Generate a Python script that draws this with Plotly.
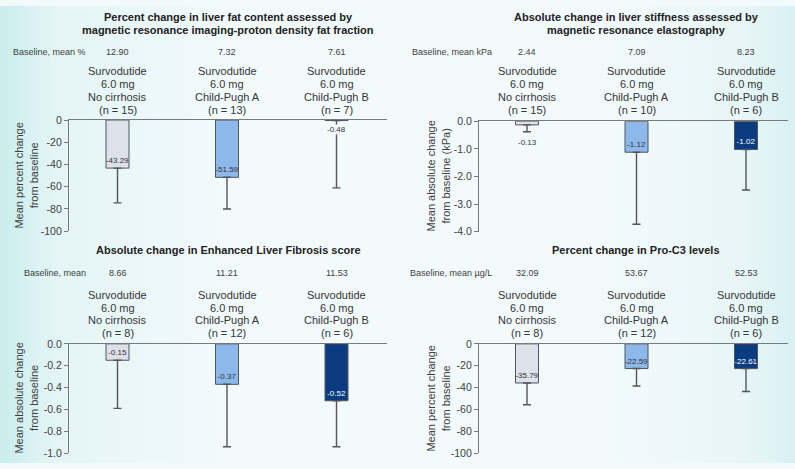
import base64
import plotly.graph_objects as go

# ---------------- data ----------------
groups = ["No cirrhosis", "Child-Pugh A", "Child-Pugh B"]
drug_line1 = "Survodutide"
drug_line2 = "6.0 mg"

p1_title = ["Percent change in liver fat content assessed by",
            "magnetic resonance imaging-proton density fat fraction"]
p1_baseline_label = "Baseline, mean %"
p1_baseline = ["12.90", "7.32", "7.61"]
p1_n = ["(n = 15)", "(n = 13)", "(n = 7)"]
p1_values = [-43.29, -51.59, -0.48]
p1_err = [31.3, 28.5, 60.6]
p1_ytitle = "Mean percent change<br>from baseline"
p1_ticks = [0, -20, -40, -60, -80, -100]
p1_ticktext = ["0", "-20", "-40", "-60", "-80", "-100"]

p2_title = ["Absolute change in liver stiffness assessed by",
            "magnetic resonance elastography"]
p2_baseline_label = "Baseline, mean kPa"
p2_baseline = ["2.44", "7.09", "8.23"]
p2_n = ["(n = 15)", "(n = 10)", "(n = 6)"]
p2_values = [-0.13, -1.12, -1.02]
p2_err = [0.25, 2.61, 1.47]
p2_ytitle = "Mean absolute change<br>from baseline (kPa)"
p2_ticks = [0, -1, -2, -3, -4]
p2_ticktext = ["0.0", "-1.0", "-2.0", "-3.0", "-4.0"]

p3_title = ["Absolute change in Enhanced Liver Fibrosis score"]
p3_baseline_label = "Baseline, mean"
p3_baseline = ["8.66", "11.21", "11.53"]
p3_n = ["(n = 8)", "(n = 12)", "(n = 6)"]
p3_values = [-0.15, -0.37, -0.52]
p3_err = [0.44, 0.57, 0.42]
p3_ytitle = "Mean absolute change<br>from baseline"
p3_ticks = [0, -0.2, -0.4, -0.6, -0.8, -1.0]
p3_ticktext = ["0.0", "-0.2", "-0.4", "-0.6", "-0.8", "-1.0"]

p4_title = ["Percent change in Pro-C3 levels"]
p4_baseline_label = "Baseline, mean µg/L"
p4_baseline = ["32.09", "53.67", "52.53"]
p4_n = ["(n = 8)", "(n = 12)", "(n = 6)"]
p4_values = [-35.79, -22.59, -22.61]
p4_err = [19.9, 15.9, 20.9]
p4_ytitle = "Mean percent change<br>from baseline"
p4_ticks = [0, -20, -40, -60, -80, -100]
p4_ticktext = ["0", "-20", "-40", "-60", "-80", "-100"]

# ---------------- styles / layout ----------------
W, H = 795, 469
FONT = "Liberation Sans, Arial, sans-serif"
bar_colors = ["#dde1e9", "#8cb8ea", "#0c3c80"]
label_colors = ["#333333", "#333333", "#ffffff"]
BG_MID = "#f3fafc"

panels = [
    dict(title=p1_title, bl=p1_baseline_label, base=p1_baseline, n=p1_n, v=p1_values, e=p1_err,
         yt=p1_ytitle, tv=p1_ticks, tt=p1_ticktext, yr=[-100, 0],
         xpx=[69, 387], ypx=[117, 231], c0=117.5, title_y=[11.7, 25.0], title_x=228,
         base_y=47.7, base_right=88, grp_y=66.7, grp_dy=13.4, ytx=26,
         lab=["inside", "inside", "belowbar"]),
    dict(title=p2_title, bl=p2_baseline_label, base=p2_baseline, n=p2_n, v=p2_values, e=p2_err,
         yt=p2_ytitle, tv=p2_ticks, tt=p2_ticktext, yr=[-4, 0],
         xpx=[479, 788], ypx=[118.3, 231.7], c0=527, title_y=[11.7, 25.0], title_x=636,
         base_y=47.7, base_right=494, grp_y=66.7, grp_dy=13.4, ytx=438,
         lab=["belowerr", "inside", "inside"]),
    dict(title=p3_title, bl=p3_baseline_label, base=p3_baseline, n=p3_n, v=p3_values, e=p3_err,
         yt=p3_ytitle, tv=p3_ticks, tt=p3_ticktext, yr=[-1, 0],
         xpx=[69, 387], ypx=[346.7, 459], c0=117.5, title_y=[250.0], title_x=228,
         base_y=274.3, base_right=88, grp_y=296.7, grp_dy=12.8, ytx=26,
         lab=["inside", "inside", "inside"]),
    dict(title=p4_title, bl=p4_baseline_label, base=p4_baseline, n=p4_n, v=p4_values, e=p4_err,
         yt=p4_ytitle, tv=p4_ticks, tt=p4_ticktext, yr=[-100, 0],
         xpx=[479, 788], ypx=[346.7, 459], c0=527, title_y=[250.0], title_x=636,
         base_y=274.3, base_right=494, grp_y=296.7, grp_dy=12.8, ytx=438,
         lab=["inside", "inside", "inside"]),
]
SPACING = 109.5
BARW = 23 / SPACING


def px_x(p):
    return p / W


def px_y(p):
    return 1 - p / H


fig = go.Figure()
annotations = []
layout_axes = {}

for i, P in enumerate(panels, start=1):
    xa = "x" if i == 1 else f"x{i}"
    ya = "y" if i == 1 else f"y{i}"
    xkey = "xaxis" if i == 1 else f"xaxis{i}"
    ykey = "yaxis" if i == 1 else f"yaxis{i}"

    left = -(P["c0"] - P["xpx"][0]) / SPACING
    right = left + (P["xpx"][1] - P["xpx"][0]) / SPACING

    texts = [f"{v:.2f}" if lab == "inside" else "" for v, lab in zip(P["v"], P["lab"])]

    fig.add_trace(go.Bar(
        x=groups, y=P["v"], xaxis=xa, yaxis=ya, width=BARW,
        marker=dict(color=bar_colors, line=dict(color="#505560", width=1)),
        text=texts, textposition="inside", insidetextanchor="end",
        textangle=0, constraintext="none", cliponaxis=False,
        textfont=dict(family=FONT, size=8, color=label_colors),
        error_y=dict(type="data", symmetric=False, array=[0, 0, 0], arrayminus=P["e"],
                     color="#555555", thickness=1.4, width=4),
        showlegend=False, hoverinfo="skip",
    ))

    layout_axes[xkey] = dict(
        domain=[px_x(P["xpx"][0]), px_x(P["xpx"][1])], range=[left, right],
        anchor=ya, side="top", showline=True, linecolor="#7a7a7a", linewidth=1.3,
        showticklabels=False, ticks="", showgrid=False, zeroline=False, fixedrange=True,
    )
    layout_axes[ykey] = dict(
        domain=[px_y(P["ypx"][1]), px_y(P["ypx"][0])], range=P["yr"],
        anchor=xa, showline=True, linecolor="#7a7a7a", linewidth=1.3,
        ticks="outside", ticklen=4, tickcolor="#7a7a7a", tickwidth=1.2,
        tickvals=P["tv"], ticktext=P["tt"],
        tickfont=dict(family=FONT, size=10.5, color="#404040"),
        showgrid=False, zeroline=False, fixedrange=True,
    )

    # titles
    for line, ty in zip(P["title"], P["title_y"]):
        annotations.append(dict(
            text=f"<b>{line}</b>", x=px_x(P["title_x"]), y=px_y(ty), xref="paper", yref="paper",
            xanchor="center", yanchor="middle", showarrow=False,
            font=dict(family=FONT, size=11, color="#222222")))
    # baseline row
    annotations.append(dict(
        text=P["bl"], x=px_x(P["base_right"]), y=px_y(P["base_y"]), xref="paper", yref="paper",
        xanchor="right", yanchor="middle", showarrow=False,
        font=dict(family=FONT, size=9, color="#404040")))
    for g, b in zip(groups, P["base"]):
        annotations.append(dict(
            text=b, x=g, y=px_y(P["base_y"]), xref=xa, yref="paper",
            xanchor="center", yanchor="middle", showarrow=False,
            font=dict(family=FONT, size=9, color="#404040")))
    # group labels
    for g, n in zip(groups, P["n"]):
        for k, line in enumerate([drug_line1, drug_line2, g, n]):
            annotations.append(dict(
                text=line, x=g, y=px_y(P["grp_y"] + k * P["grp_dy"]), xref=xa, yref="paper",
                xanchor="center", yanchor="middle", showarrow=False,
                font=dict(family=FONT, size=11, color="#363636")))
    # value labels for small bars
    for g, v, e, lab in zip(groups, P["v"], P["e"], P["lab"]):
        if lab == "belowerr":
            annotations.append(dict(
                text=f"{v:.2f}", x=g, y=v - e, xref=xa, yref=ya, yshift=-11,
                xanchor="center", yanchor="middle", showarrow=False,
                font=dict(family=FONT, size=8, color="#333333")))
        elif lab == "belowbar":
            annotations.append(dict(
                text=f"{v:.2f}", x=g, y=v, xref=xa, yref=ya, yshift=-9,
                xanchor="center", yanchor="middle", showarrow=False,
                bgcolor=BG_MID, borderpad=0,
                font=dict(family=FONT, size=8, color="#333333")))
    # y-axis title
    annotations.append(dict(
        text=P["yt"], x=px_x(P["ytx"]), y=px_y(sum(P["ypx"]) / 2), xref="paper", yref="paper",
        xanchor="center", yanchor="middle", textangle=-90, showarrow=False,
        font=dict(family=FONT, size=11, color="#404040")))

# background gradient
svg = (
    '<svg xmlns="http://www.w3.org/2000/svg" width="795" height="469" preserveAspectRatio="none">'
    '<defs><linearGradient id="g" x1="0" y1="0" x2="1" y2="0">'
    '<stop offset="0" stop-color="#cbeded"/>'
    '<stop offset="0.07" stop-color="#e4f5f6"/>'
    '<stop offset="0.3" stop-color="#f3fafc"/>'
    '<stop offset="0.75" stop-color="#f3fafc"/>'
    '<stop offset="0.93" stop-color="#e8f6f8"/>'
    '<stop offset="1" stop-color="#d9f1f3"/>'
    '</linearGradient></defs>'
    '<rect width="795" height="469" fill="url(#g)"/></svg>'
)
bg_src = "data:image/svg+xml;base64," + base64.b64encode(svg.encode()).decode()

fig.update_layout(
    width=W, height=H,
    margin=dict(l=0, r=0, t=0, b=0),
    paper_bgcolor=BG_MID, plot_bgcolor="rgba(0,0,0,0)",
    font=dict(family=FONT, color="#333333"),
    annotations=annotations,
    images=[dict(source=bg_src, xref="paper", yref="paper", x=0, y=1, sizex=1, sizey=1,
                 xanchor="left", yanchor="top", sizing="stretch", layer="below")],
    barmode="group",
    **layout_axes,
)

fig.write_html(
    "out.html",
    config=dict(displayModeBar=False),
    post_script="document.body.style.margin='0';document.body.style.overflow='hidden';",
)
